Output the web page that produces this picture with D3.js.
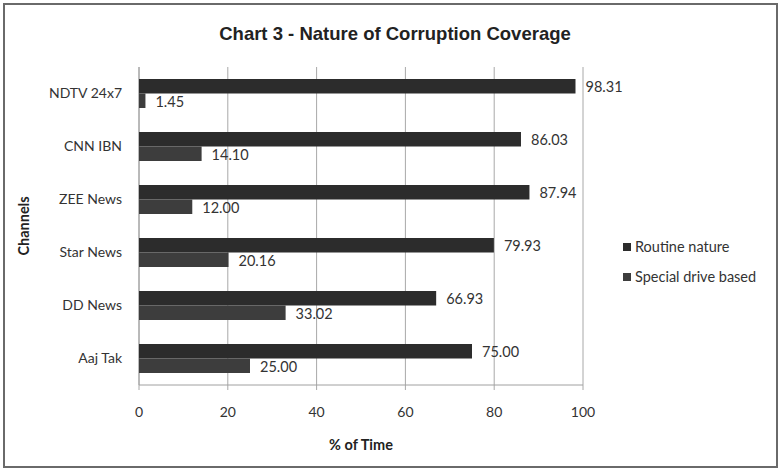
<!DOCTYPE html>
<html><head><meta charset="utf-8">
<script src="https://cdn.jsdelivr.net/npm/d3@7/dist/d3.min.js"></script>
<style>body{margin:0;background:#fff;} text{font-family:Lato,"Open Sans",sans-serif;}</style>
</head><body>
<svg id="c" width="778" height="468"></svg>
<script>
const categories = ["NDTV 24x7","CNN IBN","ZEE News","Star News","DD News","Aaj Tak"];
const routine = [98.31, 86.03, 87.94, 79.93, 66.93, 75.00];
const special = [1.45, 14.10, 12.00, 20.16, 33.02, 25.00];
const seriesNames = ["Routine nature","Special drive based"];
const xTicks = [0,20,40,60,80,100];

const svg = d3.select("#c");
svg.append("rect").attr("x",4).attr("y",4).attr("width",773).attr("height",463)
  .attr("fill","#fff").attr("stroke","#6a6a6a").attr("stroke-width",2);

svg.append("text").attr("x",395).attr("y",40).attr("text-anchor","middle")
  .style("font-family","'Liberation Sans',Arial,sans-serif").style("font-weight","bold")
  .style("font-size","18.5px").attr("fill","#222").text("Chart 3 - Nature of Corruption Coverage");

const x = d3.scaleLinear().domain([0,100]).range([139,583]);
const y = d3.scaleBand().domain(categories).range([67,385]);
const bandH = y.bandwidth();
const barH = 14.5;

const g = svg.append("g");
g.selectAll("line.grid").data(xTicks).join("line")
  .attr("x1",d=>x(d)).attr("x2",d=>x(d)).attr("y1",67).attr("y2",390)
  .attr("stroke","#a8a8a8").attr("stroke-width",1);
g.append("line").attr("x1",x(0)).attr("x2",x(100)).attr("y1",385).attr("y2",385)
  .attr("stroke","#a0a0a0").attr("stroke-width",1);
g.append("line").attr("x1",x(0)).attr("x2",x(0)).attr("y1",67).attr("y2",385)
  .attr("stroke","#a0a0a0").attr("stroke-width",1);

const colors = ["#2c2c2c","#3d3d3d"];
const data = categories.map((c,i)=>({c, r:routine[i], s:special[i]}));
data.forEach(d=>{
  const cy = y(d.c) + bandH/2;
  g.append("rect").attr("x",x(0)).attr("y",cy-barH).attr("width",x(d.r)-x(0)).attr("height",barH).attr("fill",colors[0]);
  g.append("rect").attr("x",x(0)).attr("y",cy).attr("width",x(d.s)-x(0)).attr("height",barH).attr("fill",colors[1]);
  g.append("text").attr("x",x(d.r)+10).attr("y",cy-barH/2+1).attr("dy","0.35em")
    .style("font-size","14.5px").attr("fill","#333").text(d.r.toFixed(2));
  g.append("text").attr("x",x(d.s)+10).attr("y",cy+barH/2+1).attr("dy","0.35em")
    .style("font-size","14.5px").attr("fill","#333").text(d.s.toFixed(2));
  g.append("text").attr("x",122).attr("y",cy).attr("dy","0.35em").attr("text-anchor","end")
    .style("font-size","14px").attr("fill","#333").text(d.c);
});

g.selectAll("text.xt").data(xTicks).join("text")
  .attr("x",d=>x(d)).attr("y",412).attr("dy","0.35em").attr("text-anchor","middle")
  .style("font-size","14px").attr("fill","#333").text(d=>d);

svg.append("text").attr("x",x(50)).attr("y",445).attr("dy","0.35em").attr("text-anchor","middle")
  .style("font-size","14.5px").style("font-weight","bold").attr("fill","#222").text("% of Time");

svg.append("text").attr("transform","translate(24,226) rotate(-90)").attr("dy","0.35em")
  .attr("text-anchor","middle").style("font-size","14.5px").style("font-weight","bold")
  .attr("fill","#222").text("Channels");

const lg = svg.append("g");
seriesNames.forEach((n,i)=>{
  const ly = 247 + i*30;
  lg.append("rect").attr("x",623).attr("y",ly-4).attr("width",8).attr("height",8).attr("fill",colors[i]);
  lg.append("text").attr("x",635).attr("y",ly).attr("dy","0.35em").style("font-size","14.5px")
    .attr("fill","#333").text(n);
});
</script>
</body></html>
